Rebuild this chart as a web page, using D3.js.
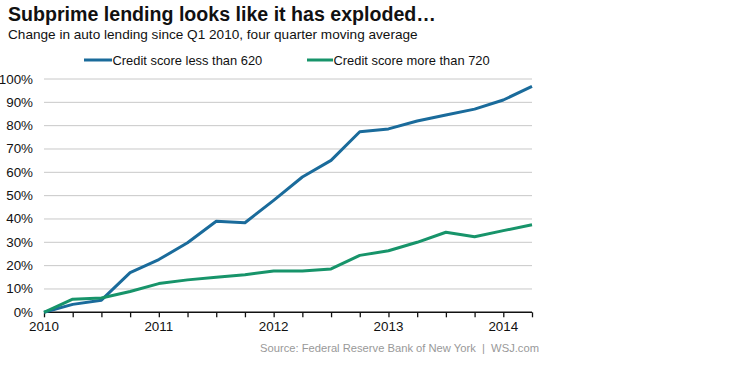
<!DOCTYPE html>
<html><head><meta charset="utf-8">
<script src="https://cdn.jsdelivr.net/npm/d3@7"></script>
<style>body{margin:0;background:#fff;} svg{display:block;font-family:"Liberation Sans",Arial,sans-serif;}</style>
</head><body>
<svg id="c" width="756" height="366"></svg>
<script>
const quarters = ["2010Q1","2010Q2","2010Q3","2010Q4","2011Q1","2011Q2","2011Q3","2011Q4","2012Q1","2012Q2","2012Q3","2012Q4","2013Q1","2013Q2","2013Q3","2013Q4","2014Q1","2014Q2"];
const below620 = [0,3.4,5.2,17,22.6,29.8,39,38.4,48,58,65.1,77.4,78.6,82,84.6,87.1,91,96.8];
const above720 = [0,5.6,6.1,8.9,12.3,13.9,15,16.1,17.7,17.7,18.6,24.4,26.4,30,34.3,32.4,35,37.5];
const yTicks = [0,10,20,30,40,50,60,70,80,90,100];
const yearLabels = ["2010","2011","2012","2013","2014"];
const seriesNames = ["Credit score less than 620","Credit score more than 720"];
const colors = ["#1a6b9b","#17946a"];
const title = "Subprime lending looks like it has exploded\u2026";
const subtitle = "Change in auto lending since Q1 2010, four quarter moving average";
const source = "Source: Federal Reserve Bank of New York  |  WSJ.com";

const svg = d3.select("#c");
const x = d3.scaleLinear().domain([0, quarters.length-1]).range([44, 532]);
const y = d3.scaleLinear().domain([0,100]).range([312.3, 79]);

svg.append("text").attr("x",8).attr("y",21).attr("font-size",19.6).attr("font-weight","bold").attr("fill","#111").text(title);
svg.append("text").attr("x",8).attr("y",39).attr("font-size",13.6).attr("fill","#111").text(subtitle);

// legend
const legX = [[84,112],[307,333]];
seriesNames.forEach((n,i)=>{
  svg.append("line").attr("x1",legX[i][0]).attr("x2",legX[i][1]).attr("y1",60).attr("y2",60).attr("stroke",colors[i]).attr("stroke-width",3);
  svg.append("text").attr("x",legX[i][1]+0.5).attr("y",64.5).attr("font-size",12.9).attr("fill","#111").text(n);
});

// grid
svg.append("g").selectAll("line").data(yTicks.filter(d=>d>0)).join("line")
  .attr("x1",44).attr("x2",532).attr("y1",d=>y(d)).attr("y2",d=>y(d))
  .attr("stroke","#c8c8c8").attr("stroke-width",1);
svg.append("g").selectAll("text").data(yTicks).join("text")
  .attr("x",33).attr("y",d=>y(d)+4.5).attr("text-anchor","end").attr("font-size",13.4).attr("fill","#111")
  .text(d=>d+"%");

// x axis
const xAxis = d3.axisBottom(x).tickValues(d3.range(quarters.length)).tickSize(5).tickFormat("");
const gx = svg.append("g").attr("transform","translate(0,312.3)").call(xAxis);
gx.select(".domain").attr("stroke","#111").attr("stroke-width",1.5).attr("d","M44,0H532");
gx.selectAll(".tick line").attr("stroke","#111").attr("stroke-width",1.3);
svg.append("g").selectAll("text").data(yearLabels).join("text")
  .attr("x",(d,i)=>x(i*4)).attr("y",331).attr("text-anchor","middle").attr("font-size",13.4).attr("fill","#111").text(d=>d);

// lines
const line = d3.line().x((d,i)=>x(i)).y(d=>y(d));
[below620, above720].forEach((s,i)=>{
  svg.append("path").datum(s).attr("d",line).attr("fill","none").attr("stroke",colors[i]).attr("stroke-width",3).attr("stroke-linejoin","round");
});

svg.append("text").attr("x",260).attr("y",352).attr("font-size",11.2).attr("fill","#999")
  .attr("xml:space","preserve").style("white-space","pre").text(source);
</script>
</body></html>
